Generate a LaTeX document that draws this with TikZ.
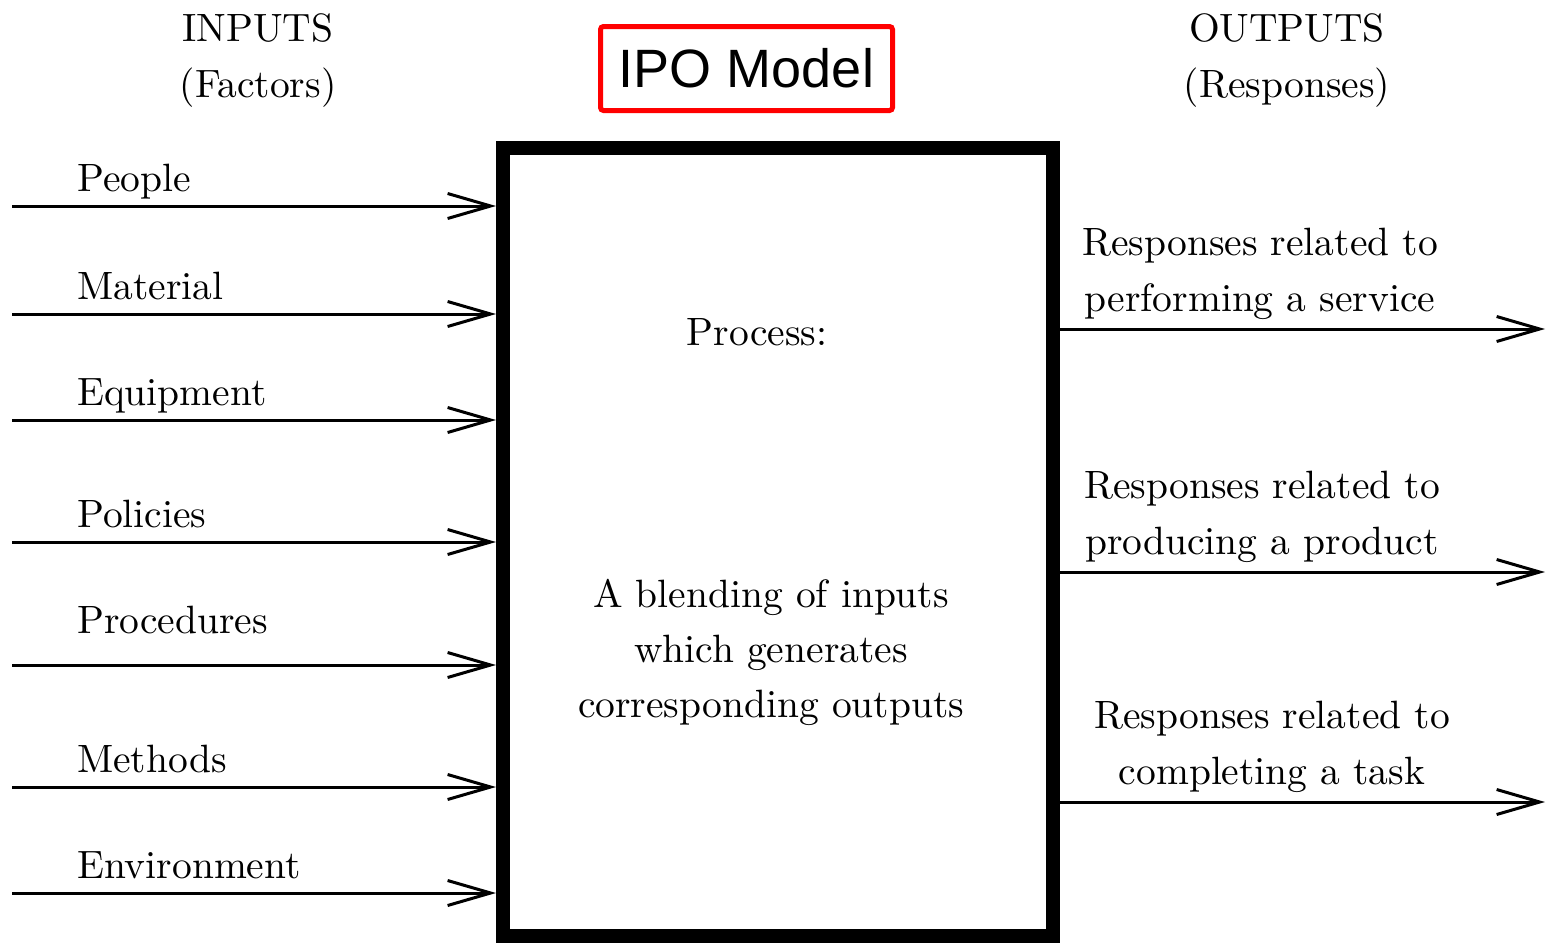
\documentclass[tikz,border=0pt]{standalone}
\usepackage{fontspec}
\setmainfont{lmroman10-regular.otf}
\newfontfamily\titlefont{Liberation Sans}
\usetikzlibrary{arrows.meta}
\tikzset{
  lab/.style={font=\fontsize{39.5}{46}\selectfont, inner sep=0pt},
  twoline/.style={lab, align=center, font=\fontsize{39.5}{56}\selectfont},
  head/.style={lab, align=center, font=\fontsize{39.5}{56}\selectfont},
  flow/.style={line width=3pt, -{Straight Barb[length=43pt,width=25pt,line width=3pt]}},
}
\begin{document}
\begin{tikzpicture}[x=1pt,y=-1pt]
\useasboundingbox (0,0) rectangle (1547,945);

% headings (anchor base = last line's baseline)
\node[head, anchor=base] (inh) at (258,97) {INPUTS\\(Factors)};
\node[head, anchor=base] (outh) at (1287,97) {OUTPUTS\\(Responses)};

% title
\node[draw=red, line width=5pt, rounded corners=3pt, minimum width=292pt,
      minimum height=84pt, inner sep=0pt,
      font=\titlefont\fontsize{54}{60}\selectfont] (title) at (746.5,68.5) {IPO Model};

% process box
\node[draw, line width=14pt, minimum width=550pt, minimum height=788pt,
      inner sep=0pt] (box) at (778,542) {};
\node[lab, anchor=base] (proc) at (757,345) {Process:};
\node[lab, align=center, font=\fontsize{39.5}{55}\selectfont, anchor=base] (blend)
      at (771,717) {A blending of inputs\\which generates\\corresponding outputs};

% inputs
\coordinate (i1) at (12,206);
\coordinate (i2) at (12,314);
\coordinate (i3) at (12,420);
\coordinate (i4) at (12,542);
\coordinate (i5) at (12,665);
\coordinate (i6) at (12,787);
\coordinate (i7) at (12,893);
\foreach \c in {i1,i2,i3,i4,i5,i6,i7}
  \draw[flow] (\c) -- (\c -| box.west);

\node[lab, anchor=base west] (l1) at (77,191) {People};
\node[lab, anchor=base west] (l2) at (77,299) {Material};
\node[lab, anchor=base west] (l3) at (77,405) {Equipment};
\node[lab, anchor=base west] (l4) at (77,527) {Policies};
\node[lab, anchor=base west] (l5) at (77,633) {Procedures};
\node[lab, anchor=base west] (l6) at (77,772) {Methods};
\node[lab, anchor=base west] (l7) at (77,878) {Environment};

% outputs
\coordinate (o1) at (1545,329);
\coordinate (o2) at (1545,572);
\coordinate (o3) at (1545,802);
\foreach \c in {o1,o2,o3}
  \draw[flow] (\c -| box.east) -- (\c);

\node[twoline, anchor=base] (r1) at (1260,311) {Responses related to\\performing a service};
\node[twoline, anchor=base] (r2) at (1262,554) {Responses related to\\producing a product};
\node[twoline, anchor=base] (r3) at (1272,784) {Responses related to\\completing a task};
\end{tikzpicture}
\end{document}
